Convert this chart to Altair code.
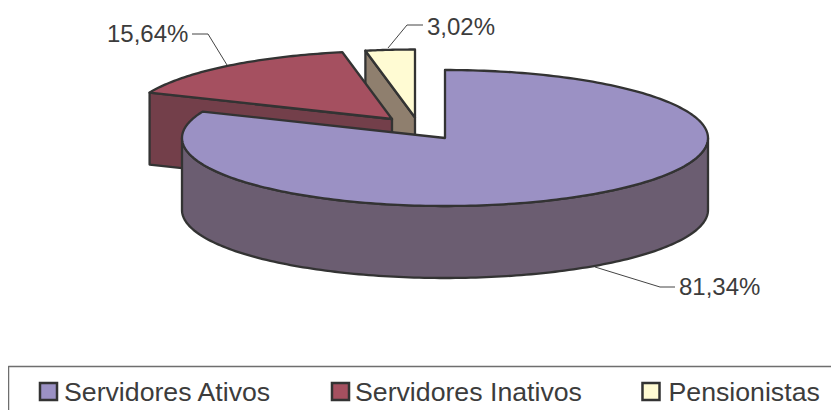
import math
import altair as alt
import pandas as pd

# Chart values
categories = ["Servidores Ativos", "Servidores Inativos", "Pensionistas"]
shares = [81.34, 15.64, 3.02]
share_labels = ["81,34%", "15,64%", "3,02%"]
top_colors = ["#9B91C4", "#A55060", "#FFFBD3"]
side_colors = ["#6B5D71", "#733F4A", "#8F7F6E"]

# Pie projection
RX, RY, DEPTH = 263, 68, 72
tips = [(445, 138), (392, 119), (415, 117.5)]
EDGE = "#333333"
GREY = "#3C3C3C"
W, H = 823, 402

x_scale = alt.Scale(domain=[8, 8 + W])
y_scale = alt.Scale(domain=[8 + H, 8])


def rim(cx, cy, a, b, n=160):
    return [(cx + RX * math.sin(a + (b - a) * i / n), cy - RY * math.cos(a + (b - a) * i / n)) for i in range(n + 1)]


def poly(points, fill, stroke=EDGE, width=2.3, closed=True):
    df = pd.DataFrame(points, columns=["x", "y"])
    df["i"] = range(len(df))
    return alt.Chart(df).mark_line(
        fill=fill if fill else "transparent", stroke=stroke, strokeWidth=width, strokeJoin="round",
        interpolate="linear-closed" if closed else "linear", clip=True,
    ).encode(
        x=alt.X("x:Q", scale=x_scale, axis=None),
        y=alt.Y("y:Q", scale=y_scale, axis=None),
        order="i:Q",
    )


# Slice angles, clockwise from twelve o'clock
angles = []
start = 0.0
for s in shares:
    end = start + s / 100 * 2 * math.pi
    angles.append((start, end))
    start = end

layers = []
# Pensionistas: left cut face, then top
(cx, cy), (a, b) = tips[2], angles[2]
edge = (cx + RX * math.sin(a), cy - RY * math.cos(a))
layers.append(poly([edge, (cx, cy), (cx, cy + DEPTH), (edge[0], edge[1] + DEPTH)], side_colors[2]))
layers.append(poly([(cx, cy)] + rim(cx, cy, a, b, 20), top_colors[2]))
# Servidores Inativos: front cut face, then top
(cx, cy), (a, b) = tips[1], angles[1]
edge = (cx + RX * math.sin(a), cy - RY * math.cos(a))
layers.append(poly([edge, (cx, cy), (cx, cy + DEPTH), (edge[0], edge[1] + DEPTH)], side_colors[1]))
layers.append(poly([(cx, cy)] + rim(cx, cy, a, b, 60), top_colors[1]))
# Servidores Ativos: outer wall, then top
(cx, cy), (a, b) = tips[0], angles[0]
wall = rim(cx, cy, math.pi / 2, 3 * math.pi / 2)
layers.append(poly(wall + [(x, y + DEPTH) for x, y in reversed(wall)], side_colors[0]))
layers.append(poly([(cx, cy)] + rim(cx, cy, a, b, 240), top_colors[0]))

# Leader lines
leaders = [
    [(595, 267), (660, 287), (675, 287)],
    [(227, 65), (208, 34), (192, 34)],
    [(388, 48), (407, 25), (423, 25)],
]
for pts in leaders:
    layers.append(poly(pts, None, stroke="#444444", width=1, closed=False))

# Percent labels
labels = pd.DataFrame({"t": share_labels, "x": [679, 107, 427], "y": [288, 35, 28]})
layers.append(alt.Chart(labels).mark_text(
    align="left", baseline="middle", font="Liberation Sans", fontSize=24, color=GREY
).encode(
    x=alt.X("x:Q", scale=x_scale, axis=None), y=alt.Y("y:Q", scale=y_scale, axis=None), text="t:N"
))

# Legend frame (open below and to the right: it runs off the picture)
layers.append(poly([(8.5, 410), (8.5, 366.5), (831, 366.5)], None, stroke="#6E6E6E", width=1.5, closed=False))

legend = pd.DataFrame({
    "t": categories, "c": top_colors,
    "sx": [48.5, 340.5, 651], "tx": [64, 355, 668.5], "ty": [393, 393, 393], "y": [391.5, 391.5, 391.5],
})
layers.append(alt.Chart(legend).mark_point(
    shape="square", size=290, filled=True, stroke=EDGE, strokeWidth=2.5, opacity=1
).encode(
    x=alt.X("sx:Q", scale=x_scale, axis=None), y=alt.Y("y:Q", scale=y_scale, axis=None),
    fill=alt.Fill("c:N", scale=None),
))
layers.append(alt.Chart(legend).mark_text(
    align="left", baseline="middle", font="Liberation Sans", fontSize=26.7, color=GREY
).encode(
    x=alt.X("tx:Q", scale=x_scale, axis=None), y=alt.Y("ty:Q", scale=y_scale, axis=None), text="t:N"
))

chart = alt.layer(*layers).properties(
    width=W, height=H, padding=0, autosize=alt.AutoSizeParams(type="none"),
).configure_view(stroke=None)

chart.save("out.html", embed_options={"renderer": "svg", "actions": False})
